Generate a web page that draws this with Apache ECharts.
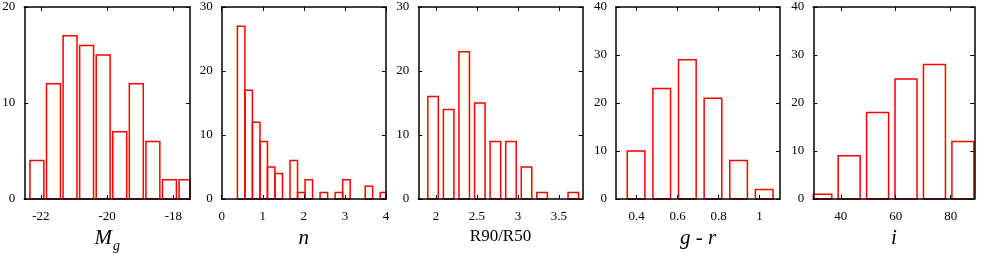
<!DOCTYPE html>
<html><head><meta charset="utf-8">
<script src="https://cdn.jsdelivr.net/npm/echarts@6/dist/echarts.min.js"></script>
<style>html,body{margin:0;padding:0;background:#fff}#c{width:981px;height:254px}</style>
</head><body><div id="c"></div>
<script>
// Panel 1: M_g
const mgCenters = [-22.12, -21.62, -21.12, -20.62, -20.12, -19.62, -19.12, -18.62, -18.12, -17.62];
const mgCounts  = [4, 12, 17, 16, 15, 7, 12, 6, 2, 2];
const mgTicks   = [-22, -20, -18];
// Panel 2: n
const nCenters = [0.474, 0.657, 0.840, 1.023, 1.206, 1.389, 1.755, 1.938, 2.121, 2.487, 2.853, 3.036, 3.585, 3.951];
const nCounts  = [27, 17, 12, 9, 5, 4, 6, 1, 3, 1, 1, 3, 2, 1];
const nTicks   = [0, 1, 2, 3, 4];
// Panel 3: R90/R50
const rCenters = [1.965, 2.155, 2.345, 2.535, 2.725, 2.915, 3.105, 3.295, 3.675];
const rCounts  = [16, 14, 23, 15, 9, 9, 5, 1, 1];
const rTicks   = [2, 2.5, 3, 3.5];
// Panel 4: g - r
const grCenters = [0.398, 0.523, 0.648, 0.773, 0.898, 1.023];
const grCounts  = [10, 23, 29, 21, 8, 2];
const grTicks   = [0.4, 0.6, 0.8, 1];
// Panel 5: i
const iCenters = [32.7, 43.05, 53.4, 63.75, 74.1, 84.45];
const iCounts  = [1, 9, 18, 25, 28, 12];
const iTicks   = [40, 60, 80];

const panels = [
  {centers: mgCenters, counts: mgCounts, ticks: mgTicks, xmin: -22.5, xmax: -17.5, ymax: 20, barW: 0.42,
   name: '{m|M}{s|g}', left: 24.3, right: 190},
  {centers: nCenters, counts: nCounts, ticks: nTicks, xmin: 0, xmax: 4, ymax: 30, barW: 0.183,
   name: '{m|n}', left: 221.7, right: 386},
  {centers: rCenters, counts: rCounts, ticks: rTicks, xmin: 1.785, xmax: 3.79, ymax: 30, barW: 0.128,
   name: '{r|R90/R50}', left: 418.3, right: 582.7},
  {centers: grCenters, counts: grCounts, ticks: grTicks, xmin: 0.3, xmax: 1.1, ymax: 40, barW: 0.086,
   name: '{m|g - r}', left: 616, right: 780},
  {centers: iCenters, counts: iCounts, ticks: iTicks, xmin: 30, xmax: 88.6, ymax: 40, barW: 8,
   name: '{m|i}', left: 813.3, right: 974.3}
];

const FONT = '"Liberation Serif", "DejaVu Serif", serif';
const TOP = 7, BOTTOM = 199;

function renderBar(w) {
  return function (params, api) {
    const x = api.value(0), y = api.value(1);
    const p1 = api.coord([x - w / 2, y]);
    const p2 = api.coord([x + w / 2, 0]);
    const rect = {x: p1[0], y: p1[1], width: p2[0] - p1[0], height: p2[1] - p1[1]};
    const cs = params.coordSys;
    const c = echarts.graphic.clipRectByRect(rect, {x: cs.x, y: cs.y, width: cs.width, height: cs.height + 2});
    if (!c) return null;
    return {type: 'rect', shape: c, style: {fill: 'none', stroke: '#ff0000', lineWidth: 1.5}};
  };
}

const grid = [], xAxis = [], yAxis = [], series = [];
const lineStyle = {color: '#000', width: 1.5};
panels.forEach((p, k) => {
  grid.push({left: p.left, top: TOP, width: p.right - p.left, height: BOTTOM - TOP,
    containLabel: false, outerBoundsMode: 'none'});
  xAxis.push({
    type: 'value', gridIndex: k, min: p.xmin, max: p.xmax, position: 'bottom', z: 5,
    axisLine: {show: true, onZero: false, lineStyle},
    axisTick: {show: true, inside: true, length: 4, customValues: p.ticks, lineStyle: {color: '#000', width: 1}},
    axisLabel: {show: true, customValues: p.ticks, margin: 11, fontFamily: FONT, fontSize: 13, color: '#000',
      showMinLabel: true, showMaxLabel: true},
    splitLine: {show: false},
    name: p.name, nameLocation: 'middle', nameGap: 23,
    nameTextStyle: {
      color: '#000',
      rich: {
        m: {fontFamily: FONT, fontStyle: 'italic', fontSize: 21, color: '#000'},
        s: {fontFamily: FONT, fontStyle: 'italic', fontSize: 14, color: '#000', padding: [15, 0, 0, 1]},
        r: {fontFamily: FONT, fontSize: 17, color: '#000'}
      }
    }
  });
  xAxis.push({
    type: 'value', gridIndex: k, min: p.xmin, max: p.xmax, position: 'top', z: 5,
    axisLine: {show: true, onZero: false, lineStyle},
    axisTick: {show: true, inside: true, length: 4, customValues: p.ticks, lineStyle: {color: '#000', width: 1}},
    axisLabel: {show: false}, splitLine: {show: false}
  });
  yAxis.push({
    type: 'value', gridIndex: k, min: 0, max: p.ymax, interval: 10, position: 'left', z: 5,
    axisLine: {show: true, onZero: false, lineStyle},
    axisTick: {show: true, inside: true, length: 4, lineStyle: {color: '#000', width: 1}},
    axisLabel: {show: true, margin: 9, fontFamily: FONT, fontSize: 13, color: '#000',
      showMinLabel: true, showMaxLabel: true},
    splitLine: {show: false}
  });
  yAxis.push({
    type: 'value', gridIndex: k, min: 0, max: p.ymax, interval: 10, position: 'right', z: 5,
    axisLine: {show: true, onZero: false, lineStyle},
    axisTick: {show: true, inside: true, length: 4, lineStyle: {color: '#000', width: 1}},
    axisLabel: {show: false}, splitLine: {show: false}
  });
  series.push({
    type: 'custom', xAxisIndex: 2 * k, yAxisIndex: 2 * k, z: 1, clip: false,
    renderItem: renderBar(p.barW),
    data: p.centers.map((c, i) => [c, p.counts[i]])
  });
});

const chart = echarts.init(document.getElementById('c'), null, {renderer: 'canvas'});
chart.setOption({animation: false, backgroundColor: '#fff', grid, xAxis, yAxis, series});
</script></body></html>
